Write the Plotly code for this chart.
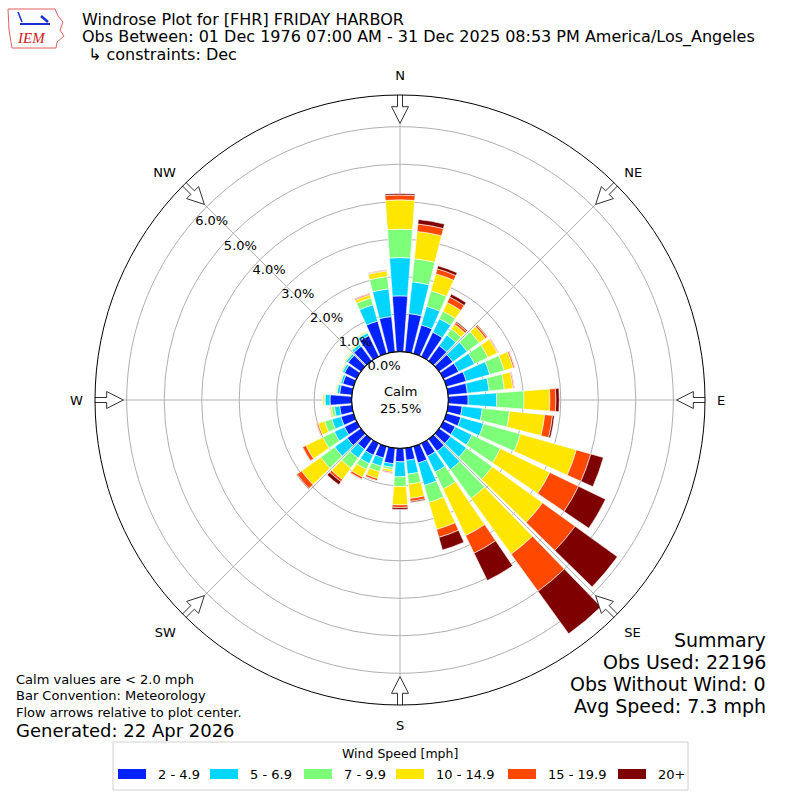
import numpy as np
import plotly.graph_objects as go

# Direction bins (degrees, meteorological convention) and percent of obs per speed class
directions = list(range(0, 360, 10))

speed_labels = ["2 - 4.9", "5 - 6.9", "7 - 9.9", "10 - 14.9", "15 - 19.9", "20+"]
speed_colors = ["#0022ff", "#00d4ff", "#7dff7a", "#ffe600", "#ff4800", "#7f0000"]

pct_2_5 = [1.49, 1.03, 0.79, 0.72, 0.50, 0.45, 0.45, 0.55, 0.52, 0.53, 0.38, 0.40,
           0.35, 0.38, 0.40, 0.38, 0.46, 0.33, 0.36, 0.42, 0.32, 0.35, 0.33, 0.45,
           0.36, 0.35, 0.33, 0.58, 0.33, 0.30, 0.36, 0.42, 0.48, 0.62, 0.90, 0.95]
pct_5_7 = [1.02, 0.85, 0.52, 0.40, 0.35, 0.47, 0.47, 0.65, 0.58, 0.76, 0.54, 0.63,
           0.50, 0.52, 0.60, 0.47, 0.62, 0.37, 0.40, 0.10, 0.23, 0.25, 0.29, 0.41,
           0.30, 0.25, 0.14, 0.13, 0.07, 0.06, 0.06, 0.06, 0.07, 0.08, 0.45, 0.74]
pct_7_10 = [0.76, 0.62, 0.43, 0.22, 0.20, 0.40, 0.40, 0.40, 0.41, 0.73, 0.73, 1.02,
            0.84, 0.85, 0.95, 0.50, 0.47, 0.27, 0.26, 0.06, 0.15, 0.17, 0.33, 0.46,
            0.34, 0.20, 0.08, 0.03, 0.03, 0.02, 0.03, 0.03, 0.03, 0.03, 0.19, 0.33]
pct_10_15 = [0.78, 0.73, 0.47, 0.26, 0.15, 0.20, 0.28, 0.25, 0.23, 0.69, 0.94, 1.55,
             1.46, 1.65, 1.83, 1.38, 0.75, 0.38, 0.49, 0.06, 0.19, 0.23, 0.38, 0.63,
             0.50, 0.18, 0.04, 0.03, 0.02, 0.02, 0.02, 0.02, 0.02, 0.02, 0.09, 0.15]
pct_15_20 = [0.13, 0.20, 0.14, 0.16, 0.06, 0.05, 0.02, 0.04, 0.03, 0.16, 0.21, 0.40,
             0.85, 1.07, 1.22, 0.52, 0.22, 0.08, 0.07, 0.03, 0.06, 0.06, 0.07, 0.15,
             0.10, 0.04, 0.01, 0.00, 0.00, 0.00, 0.00, 0.00, 0.00, 0.00, 0.03, 0.02]
pct_20_up = [0.04, 0.12, 0.08, 0.09, 0.03, 0.02, 0.01, 0.01, 0.01, 0.09, 0.05, 0.35,
             0.80, 1.39, 1.40, 0.81, 0.35, 0.03, 0.05, 0.01, 0.01, 0.01, 0.10, 0.02,
             0.01, 0.01, 0.00, 0.00, 0.00, 0.00, 0.00, 0.00, 0.00, 0.00, 0.01, 0.01]
speed_pcts = [pct_2_5, pct_5_7, pct_7_10, pct_10_15, pct_15_20, pct_20_up]

radial_ticks = [0, 1, 2, 3, 4, 5, 6]
compass_angles = [0, 45, 90, 135, 180, 225, 270, 315]
compass_names = ["N", "NE", "E", "SE", "S", "SW", "W", "NW"]

calm_pct = 25.5
title_lines = [
    "Windrose Plot for [FHR] FRIDAY HARBOR",
    "Obs Between: 01 Dec 1976 07:00 AM - 31 Dec 2025 08:53 PM America/Los_Angeles",
    "↳ constraints: Dec",
]
notes = ["Calm values are < 2.0 mph", "Bar Convention: Meteorology",
         "Flow arrows relative to plot center."]
summary = ["Summary", "Obs Used: 22196", "Obs Without Wind: 0", "Avg Speed: 7.3 mph"]

# geometry (pixels in an 800x800 page)
W = H = 800
R_OUT = 305.0
R_HOLE = 48.3
PX_PER_PCT = 37.5
R_MAX = (R_OUT - R_HOLE) / PX_PER_PCT
LABEL_ANGLE = 140
FONT = "DejaVu Sans"


def px(x):
    return x / W


def py(y):
    return 1 - y / H


fig = go.Figure()

for label, color, vals in zip(speed_labels, speed_colors, speed_pcts):
    fig.add_trace(go.Barpolar(
        r=vals, theta=directions, width=8.4, name=label,
        marker=dict(color=color, line=dict(color="white", width=0.6)),
        showlegend=False,
    ))

# calm circle outline
circ = np.linspace(0, 360, 145)
fig.add_trace(go.Scatterpolar(r=np.zeros_like(circ), theta=circ, mode="lines",
                              line=dict(color="black", width=1.2),
                              showlegend=False, hoverinfo="skip"))

# hollow flow arrows at the rim, pointing to the center
arrow_local = [(306.7, -2.5), (306.7, 2.5), (293.3, 2.5), (293.3, 8.5), (276.7, 0.0),
               (293.3, -8.5), (293.3, -2.5), (306.7, -2.5)]
for ang in compass_angles:
    rr, tt = [], []
    for a, b in arrow_local:
        rr.append((np.hypot(a, b) - R_HOLE) / PX_PER_PCT)
        tt.append(ang + np.degrees(np.arctan2(b, a)))
    fig.add_trace(go.Scatterpolar(r=rr, theta=tt, mode="lines", fill="toself",
                                  fillcolor="white", cliponaxis=False,
                                  line=dict(color="#333333", width=1),
                                  showlegend=False, hoverinfo="skip"))

dom = [px(W / 2 - R_OUT), px(W / 2 + R_OUT)]
fig.update_layout(
    width=W, height=H,
    margin=dict(l=0, r=0, t=0, b=0),
    paper_bgcolor="white",
    font=dict(family=FONT, color="black"),
    polar=dict(
        domain=dict(x=dom, y=dom),
        hole=R_HOLE / R_OUT,
        bgcolor="white",
        barmode="stack",
        radialaxis=dict(
            range=[0, R_MAX], tickvals=radial_ticks,
            ticktext=[f"{v:.1f}%" for v in radial_ticks],
            angle=LABEL_ANGLE, tickangle=LABEL_ANGLE, showline=False, ticks="",
            gridcolor="#b0b0b0", gridwidth=1, layer="above traces",
            tickfont=dict(size=13, family=FONT),
        ),
        angularaxis=dict(
            direction="clockwise", rotation=90,
            tickvals=compass_angles, ticktext=compass_names,
            showline=True, linecolor="black", linewidth=1,
            ticks="outside", ticklen=9, tickcolor="rgba(0,0,0,0)",
            gridcolor="#b0b0b0", gridwidth=1, layer="above traces",
            tickfont=dict(size=13, family=FONT),
        ),
    ),
)

annotations = []
# title block
for i, line in enumerate(title_lines):
    annotations.append(dict(x=px(80 if i < 2 else 86), y=py(19 + 18 * i), text=line,
                            xanchor="left", yanchor="middle", showarrow=False,
                            font=dict(size=16)))
# calm label
annotations.append(dict(x=0.5, y=0.5, text=f"Calm<br>{calm_pct}%", showarrow=False,
                        xanchor="center", yanchor="middle", font=dict(size=13)))
# notes bottom-left
for i, line in enumerate(notes):
    annotations.append(dict(x=px(14), y=py(679 + 16.5 * i), text=line, xanchor="left",
                            yanchor="middle", showarrow=False, font=dict(size=13)))
annotations.append(dict(x=px(14), y=py(730), text="Generated: 22 Apr 2026",
                        xanchor="left", yanchor="middle", showarrow=False,
                        font=dict(size=18)))
# summary bottom-right
for i, line in enumerate(summary):
    annotations.append(dict(x=px(768), y=py(640 + 22 * i), text=line, xanchor="right",
                            yanchor="middle", showarrow=False, font=dict(size=19)))

# legend drawn by hand to get the wide colour patches
shapes = [dict(type="rect", xref="paper", yref="paper", x0=px(113), x1=px(688),
               y0=py(742), y1=py(790), line=dict(color="#d0d0d0", width=1),
               fillcolor="white")]
annotations.append(dict(x=px(400), y=py(753), text="Wind Speed [mph]", showarrow=False,
                        xanchor="center", yanchor="middle", font=dict(size=12.5)))
patch_x = [118, 210, 304, 396, 508, 618]
for x0, label, color in zip(patch_x, speed_labels, speed_colors):
    shapes.append(dict(type="rect", xref="paper", yref="paper", x0=px(x0), x1=px(x0 + 28),
                       y0=py(779), y1=py(769), line=dict(width=0), fillcolor=color))
    annotations.append(dict(x=px(x0 + 38), y=py(774), text=label, showarrow=False,
                            xanchor="left", yanchor="middle", font=dict(size=13)))

# IEM logo (rough outline of Iowa with a wind barb)
shapes.append(dict(type="path", xref="paper", yref="paper",
                   path="M {} {} L {} {} L {} {} L {} {} L {} {} L {} {} L {} {} L {} {} L {} {} L {} {} Z".format(
                       px(8), py(9), px(55), py(9), px(58), py(16), px(63), py(22),
                       px(60), py(30), px(64), py(36), px(57), py(42), px(56), py(48),
                       px(12), py(48), px(9), py(30)),
                   line=dict(color="#e06060", width=1)))
shapes.append(dict(type="line", xref="paper", yref="paper", x0=px(20), x1=px(50),
                   y0=py(24), y1=py(24), line=dict(color="#1a2fd0", width=2)))
shapes.append(dict(type="line", xref="paper", yref="paper", x0=px(18), x1=px(22),
                   y0=py(12), y1=py(22), line=dict(color="#1a2fd0", width=1.5)))
shapes.append(dict(type="line", xref="paper", yref="paper", x0=px(41), x1=px(48),
                   y0=py(16), y1=py(22), line=dict(color="#1a2fd0", width=2.5)))
annotations.append(dict(x=px(31), y=py(38), text="<i>IEM</i>", showarrow=False,
                        xanchor="center", yanchor="middle",
                        font=dict(size=15, family="Liberation Serif", color="#d02020")))

fig.update_layout(annotations=annotations, shapes=shapes)
fig.write_html("out.html", config={"displayModeBar": False},
               post_script="document.body.style.margin='0';document.body.style.overflow='hidden';")
